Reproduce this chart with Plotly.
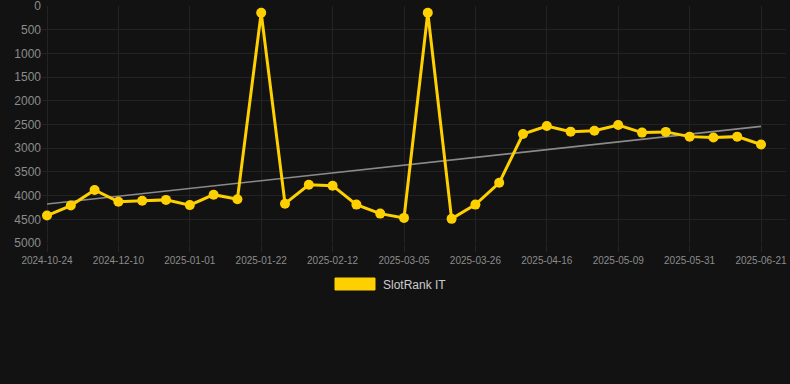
import numpy as np
import plotly.graph_objects as go

dates = ["2024-10-24", "2024-11-09", "2024-11-25", "2024-12-10", "2024-12-17", "2024-12-24",
         "2025-01-01", "2025-01-08", "2025-01-15", "2025-01-22", "2025-01-29", "2025-02-05",
         "2025-02-12", "2025-02-19", "2025-02-26", "2025-03-05", "2025-03-12", "2025-03-19",
         "2025-03-26", "2025-04-02", "2025-04-09", "2025-04-16", "2025-04-23", "2025-04-30",
         "2025-05-09", "2025-05-16", "2025-05-23", "2025-05-31", "2025-06-07", "2025-06-14",
         "2025-06-21"]
ranks = [4420, 4210, 3880, 4130, 4110, 4090, 4200, 3980, 4075, 140, 4170, 3770,
         3790, 4190, 4380, 4470, 140, 4490, 4190, 3730, 2700, 2530, 2650, 2630,
         2510, 2670, 2655, 2755, 2775, 2755, 2920]
tick_dates = ["2024-10-24", "2024-12-10", "2025-01-01", "2025-01-22", "2025-02-12", "2025-03-05",
              "2025-03-26", "2025-04-16", "2025-05-09", "2025-05-31", "2025-06-21"]
y_ticks = [0, 500, 1000, 1500, 2000, 2500, 3000, 3500, 4000, 4500, 5000]
series_name = "SlotRank IT"

idx = np.arange(len(ranks))
slope, intercept = np.polyfit(idx, ranks, 1)
trend = [slope * i + intercept for i in idx]

fig = go.Figure()
fig.add_trace(go.Scatter(x=list(idx), y=trend, mode="lines",
                         line=dict(color="#8a8a8a", width=1.6), hoverinfo="skip",
                         showlegend=False))
fig.add_trace(go.Scatter(x=list(idx), y=ranks, mode="lines+markers", name=series_name,
                         line=dict(color="#ffd000", width=3),
                         marker=dict(color="#ffd000", size=10),
                         text=dates, showlegend=False))

tick_idx = [dates.index(d) for d in tick_dates]

fig.update_layout(
    width=790, height=384,
    paper_bgcolor="#121212", plot_bgcolor="#121212",
    margin=dict(l=42, r=4, t=6, b=141, autoexpand=False),
    font=dict(family="Liberation Sans, Arial, sans-serif", color="#8c8c8c"),
    xaxis=dict(range=[-0.21, 31.05], tickvals=tick_idx, ticktext=tick_dates,
               showgrid=True, gridcolor="#232323", gridwidth=1, zeroline=False,
               tickfont=dict(size=10, color="#8c8c8c"), ticks="outside", ticklen=8,
               tickcolor="#232323", showline=False, ticklabeloverflow="allow",
               automargin=False),
    yaxis=dict(range=[5000, -2], tickvals=y_ticks, showgrid=True, gridcolor="#232323",
               gridwidth=1, zeroline=False, tickfont=dict(size=12, color="#8c8c8c"),
               ticks="", showline=False, ticklabeloverflow="allow", automargin=False),
    showlegend=False,
)

fig.add_shape(type="rect", xref="paper", yref="paper",
              x0=(335 - 42) / 744, x1=(375 - 42) / 744,
              y0=(384 - 141 - 290) / 237, y1=(384 - 141 - 278) / 237,
              fillcolor="#ffd000", line=dict(color="#ffd000", width=1))
fig.add_annotation(xref="paper", yref="paper", x=(381 - 42) / 744, y=(384 - 141 - 284.5) / 237,
                   text=series_name, showarrow=False, xanchor="left", yanchor="middle",
                   font=dict(size=12, color="#cccccc"))

fig.write_html("out.html", config={"displayModeBar": False})
with open("out.html", "r", encoding="utf-8") as f:
    html = f.read()
html = html.replace("<head>", "<head><style>html,body{margin:0;padding:0;background:#121212;overflow:hidden;}</style>", 1)
with open("out.html", "w", encoding="utf-8") as f:
    f.write(html)
